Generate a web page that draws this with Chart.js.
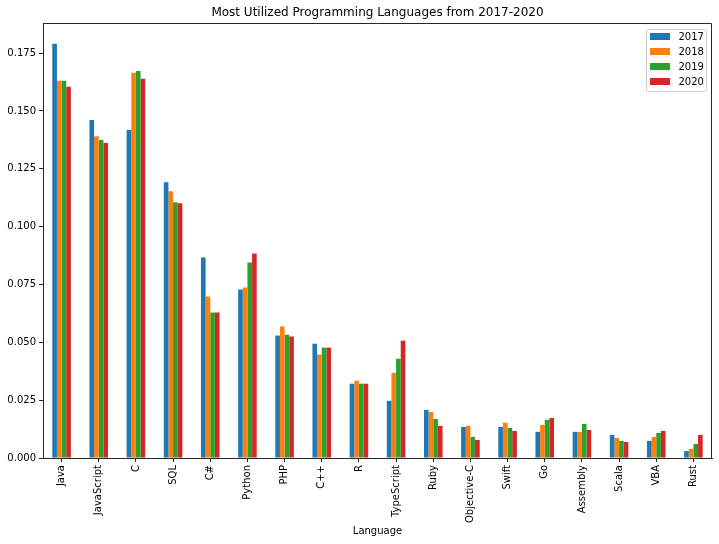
<!DOCTYPE html>
<html>
<head>
<meta charset="utf-8">
<script src="https://cdn.jsdelivr.net/npm/chart.js@4.4.0/dist/chart.umd.min.js"></script>
<style>
  html, body { margin: 0; padding: 0; background: #fff; }
  #wrap { width: 719px; height: 544px; }
</style>
</head>
<body>
<div id="wrap"><canvas id="chart" width="719" height="544"></canvas></div>
<script>
// Languages on the x axis
const languages = ['Java', 'JavaScript', 'C', 'SQL', 'C#', 'Python', 'PHP', 'C++', 'R',
  'TypeScript', 'Ruby', 'Objective-C', 'Swift', 'Go', 'Assembly', 'Scala', 'VBA', 'Rust'];

// Share of usage per year
const y2017 = [0.179, 0.1461, 0.1418, 0.1192, 0.0867, 0.0728, 0.0529, 0.0494, 0.0321,
  0.0247, 0.0208, 0.0134, 0.0134, 0.0113, 0.0113, 0.0100, 0.0074, 0.0030];
const y2018 = [0.163, 0.1391, 0.1665, 0.1153, 0.0698, 0.0737, 0.0568, 0.0447, 0.0334,
  0.0368, 0.0199, 0.0139, 0.0152, 0.0143, 0.0113, 0.0087, 0.0091, 0.0039];
const y2019 = [0.163, 0.1374, 0.1673, 0.1105, 0.0629, 0.0845, 0.0533, 0.0477, 0.0321,
  0.0429, 0.0169, 0.0091, 0.0130, 0.0165, 0.0147, 0.0074, 0.0108, 0.0061];
const y2020 = [0.1604, 0.1361, 0.1639, 0.1101, 0.0629, 0.0884, 0.0525, 0.0477, 0.0321,
  0.0507, 0.0139, 0.0078, 0.0117, 0.0173, 0.0121, 0.0069, 0.0117, 0.0100];

const yearLabels = ['2017', '2018', '2019', '2020'];
const yTicks = [0, 0.025, 0.05, 0.075, 0.1, 0.125, 0.15, 0.175];
const chartTitle = 'Most Utilized Programming Languages from 2017-2020';

const colors = ['#1f77b4', '#ff7f0e', '#2ca02c', '#d62728'];
const axisColor = '#262626';

Chart.defaults.font.family = "'DejaVu Sans', sans-serif";
Chart.defaults.font.size = 10;
Chart.defaults.color = '#000';

// Draws the title over the plot area, the top/right spines and the boxed legend
const framePlugin = {
  id: 'frame',
  afterDraw(chart) {
    const ctx = chart.ctx;
    const a = chart.chartArea;
    ctx.save();
    ctx.strokeStyle = axisColor;
    ctx.lineWidth = 1;
    ctx.beginPath();
    ctx.moveTo(a.left, a.top + 0.5);
    ctx.lineTo(a.right - 0.5, a.top + 0.5);
    ctx.lineTo(a.right - 0.5, a.bottom);
    ctx.stroke();

    // title, centred on the axes like matplotlib does
    ctx.fillStyle = '#000';
    ctx.font = "12px 'DejaVu Sans'";
    ctx.textAlign = 'center';
    ctx.textBaseline = 'middle';
    ctx.fillText(chartTitle, (a.left + a.right) / 2, 13);

    // legend
    const bx = a.right - 65.5, by = a.top + 6.5, bw = 60, bh = 62;
    ctx.fillStyle = 'rgba(255,255,255,0.8)';
    ctx.strokeStyle = '#cccccc';
    ctx.beginPath();
    ctx.roundRect(bx, by, bw, bh, 2);
    ctx.fill();
    ctx.stroke();
    ctx.font = "10px 'DejaVu Sans'";
    ctx.textBaseline = 'middle';
    ctx.textAlign = 'left';
    chart.data.datasets.forEach((ds, i) => {
      const cy = by + 7 + 15 * i;
      ctx.fillStyle = ds.backgroundColor;
      ctx.fillRect(bx + 3.5, cy - 3.5, 20, 7);
      ctx.fillStyle = '#000';
      ctx.fillText(ds.label, bx + 32, cy + 0.5);
    });
    ctx.restore();
  }
};

const datasets = [y2017, y2018, y2019, y2020].map((vals, i) => ({
  label: yearLabels[i],
  data: vals,
  backgroundColor: colors[i],
  borderWidth: 0,
  categoryPercentage: 0.5,
  barPercentage: 1.0
}));

new Chart(document.getElementById('chart'), {
  type: 'bar',
  data: { labels: languages, datasets: datasets },
  options: {
    responsive: false,
    animation: false,
    layout: { padding: { left: 0, right: 7, top: 23, bottom: 0 } },
    plugins: {
      legend: { display: false },
      tooltip: { enabled: false },
      title: { display: false }
    },
    scales: {
      x: {
        offset: true,
        border: { color: axisColor, width: 1 },
        grid: { display: true, drawOnChartArea: false, drawTicks: true, tickLength: 4, color: axisColor, offset: false },
        ticks: { minRotation: 90, maxRotation: 90, padding: 3, autoSkip: false, color: '#000' },
        title: { display: true, text: 'Language', color: '#000', padding: { top: 0, bottom: 7 } },
        afterFit(scale) { scale.height = 86; }
      },
      y: {
        min: 0,
        max: 0.188,
        border: { color: axisColor, width: 1 },
        grid: { display: true, drawOnChartArea: false, drawTicks: true, tickLength: 4, color: axisColor },
        ticks: {
          stepSize: 0.025,
          includeBounds: false,
          padding: 3,
          color: '#000',
          callback: v => Number(v).toFixed(3)
        },
        afterBuildTicks(scale) { scale.ticks = yTicks.map(v => ({ value: v })); },
        afterFit(scale) { scale.width = 43; }
      }
    }
  },
  plugins: [framePlugin]
});
</script>
</body>
</html>
